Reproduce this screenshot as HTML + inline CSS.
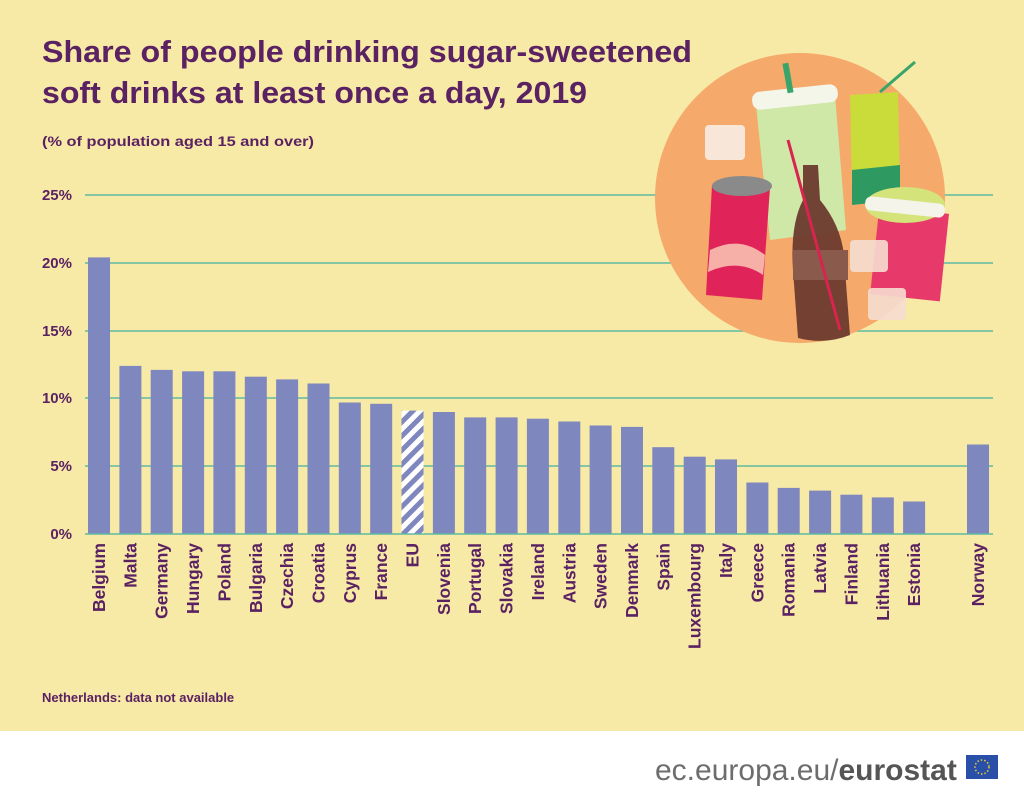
<!DOCTYPE html>
<html><head><meta charset="utf-8"><style>
html,body{margin:0;padding:0;width:1024px;height:800px;overflow:hidden;background:#fff}
svg{display:block}
text{font-family:"Liberation Sans",sans-serif;font-weight:bold;fill:#5a2262}
</style></head><body>
<svg width="1024" height="800" viewBox="0 0 1024 800">
<defs>
<pattern id="hatch" width="10" height="10" patternUnits="userSpaceOnUse" patternTransform="rotate(45)">
<rect width="10" height="10" fill="#fff"/><rect width="5" height="10" fill="#7f87bf"/>
</pattern>
</defs>
<rect width="1024" height="731" fill="#f7e9a6"/>
<text x="42" y="62" font-size="31" textLength="650" lengthAdjust="spacingAndGlyphs" style="font-family:'Liberation Sans Narrow','Liberation Sans',sans-serif">Share of people drinking sugar-sweetened</text>
<text x="42" y="103" font-size="31" textLength="545" lengthAdjust="spacingAndGlyphs" style="font-family:'Liberation Sans Narrow','Liberation Sans',sans-serif">soft drinks at least once a day, 2019</text>
<text x="42" y="146" font-size="14" textLength="272" lengthAdjust="spacingAndGlyphs">(% of population aged 15 and over)</text>
<g stroke="#5fb9a2" stroke-width="1.5">
<line x1="85" y1="195" x2="993" y2="195"/>
<line x1="85" y1="263" x2="993" y2="263"/>
<line x1="85" y1="331" x2="993" y2="331"/>
<line x1="85" y1="398" x2="993" y2="398"/>
<line x1="85" y1="466" x2="993" y2="466"/>
</g>
<g font-size="15" text-anchor="end">
<text x="72" y="200">25%</text>
<text x="72" y="268">20%</text>
<text x="72" y="336">15%</text>
<text x="72" y="403">10%</text>
<text x="72" y="471">5%</text>
<text x="72" y="539">0%</text>
</g>
<circle cx="800" cy="198" r="145" fill="#f5a96a"/>
<g>
<polygon points="756,105 835,95 846,230 770,240" fill="#cfe8a8"/>
<rect x="752" y="88" width="86" height="18" rx="8" fill="#f4f6ea" transform="rotate(-6 795 97)"/>
<rect x="785" y="63" width="6" height="30" fill="#3aa56a" transform="rotate(-10 788 78)"/>
<polygon points="850,95 898,92 900,185 852,190" fill="#c9dc3a"/>
<polygon points="852,170 900,165 900,200 852,205" fill="#2e9a62"/>
<line x1="880" y1="92" x2="915" y2="62" stroke="#3aa56a" stroke-width="3"/>
<polygon points="712,185 770,188 762,300 706,295" fill="#e0245a"/>
<ellipse cx="742" cy="186" rx="30" ry="10" fill="#8a8a8a"/>
<path d="M710,250 Q740,235 765,255 L763,275 Q738,258 708,272Z" fill="#f6b0a8"/>
<rect x="875" y="210" width="70" height="88" fill="#e83a6a" transform="rotate(6 910 250)"/>
<ellipse cx="905" cy="205" rx="40" ry="18" fill="#d4e37a"/>
<rect x="865" y="200" width="80" height="14" rx="6" fill="#f4f4ea" transform="rotate(6 905 207)"/>
<path d="M803,165 L818,165 L820,200 Q845,230 845,270 L850,335 Q825,345 798,338 L793,270 Q790,225 803,200Z" fill="#6b3a2e" opacity="0.95"/>
<rect x="793" y="250" width="55" height="30" fill="#8a5a4c"/>
<line x1="788" y1="140" x2="840" y2="330" stroke="#d8244e" stroke-width="3"/>
<rect x="705" y="125" width="40" height="35" rx="4" fill="#f8e6d8"/>
<rect x="850" y="240" width="38" height="32" rx="4" fill="#f6ddd0" opacity="0.9"/>
<rect x="868" y="288" width="38" height="32" rx="4" fill="#f6ddd0" opacity="0.9"/>
</g>
<g fill="#7f87bf">
<rect x="88" y="257.4" width="22" height="276.6"/>
<rect x="119.4" y="365.9" width="22" height="168.1"/>
<rect x="150.7" y="369.9" width="22" height="164.1"/>
<rect x="182.1" y="371.3" width="22" height="162.7"/>
<rect x="213.4" y="371.3" width="22" height="162.7"/>
<rect x="244.8" y="376.7" width="22" height="157.3"/>
<rect x="276.1" y="379.4" width="22" height="154.6"/>
<rect x="307.5" y="383.5" width="22" height="150.5"/>
<rect x="338.8" y="402.5" width="22" height="131.5"/>
<rect x="370.2" y="403.8" width="22" height="130.2"/>
<rect x="401.5" y="410.6" width="22" height="123.4" fill="url(#hatch)"/>
<rect x="432.9" y="412" width="22" height="122"/>
<rect x="464.2" y="417.4" width="22" height="116.6"/>
<rect x="495.6" y="417.4" width="22" height="116.6"/>
<rect x="526.9" y="418.7" width="22" height="115.3"/>
<rect x="558.3" y="421.5" width="22" height="112.5"/>
<rect x="589.6" y="425.5" width="22" height="108.5"/>
<rect x="621" y="426.9" width="22" height="107.1"/>
<rect x="652.3" y="447.2" width="22" height="86.8"/>
<rect x="683.7" y="456.7" width="22" height="77.3"/>
<rect x="715" y="459.4" width="22" height="74.6"/>
<rect x="746.4" y="482.5" width="22" height="51.5"/>
<rect x="777.7" y="487.9" width="22" height="46.1"/>
<rect x="809.1" y="490.6" width="22" height="43.4"/>
<rect x="840.4" y="494.7" width="22" height="39.3"/>
<rect x="871.8" y="497.4" width="22" height="36.6"/>
<rect x="903.1" y="501.5" width="22" height="32.5"/>
<rect x="967" y="444.5" width="22" height="89.5"/>
</g>
<line x1="85" y1="534" x2="993" y2="534" stroke="#5fb9a2" stroke-width="1.5"/>
<g font-size="17.5" text-anchor="end">
<text transform="translate(105,543) rotate(-90)">Belgium</text>
<text transform="translate(136.4,543) rotate(-90)">Malta</text>
<text transform="translate(167.7,543) rotate(-90)">Germany</text>
<text transform="translate(199.1,543) rotate(-90)">Hungary</text>
<text transform="translate(230.4,543) rotate(-90)">Poland</text>
<text transform="translate(261.8,543) rotate(-90)">Bulgaria</text>
<text transform="translate(293.1,543) rotate(-90)">Czechia</text>
<text transform="translate(324.5,543) rotate(-90)">Croatia</text>
<text transform="translate(355.8,543) rotate(-90)">Cyprus</text>
<text transform="translate(387.2,543) rotate(-90)">France</text>
<text transform="translate(418.5,543) rotate(-90)">EU</text>
<text transform="translate(449.9,543) rotate(-90)">Slovenia</text>
<text transform="translate(481.2,543) rotate(-90)">Portugal</text>
<text transform="translate(512.6,543) rotate(-90)">Slovakia</text>
<text transform="translate(543.9,543) rotate(-90)">Ireland</text>
<text transform="translate(575.3,543) rotate(-90)">Austria</text>
<text transform="translate(606.6,543) rotate(-90)">Sweden</text>
<text transform="translate(638,543) rotate(-90)">Denmark</text>
<text transform="translate(669.3,543) rotate(-90)">Spain</text>
<text transform="translate(700.7,543) rotate(-90)">Luxembourg</text>
<text transform="translate(732,543) rotate(-90)">Italy</text>
<text transform="translate(763.4,543) rotate(-90)">Greece</text>
<text transform="translate(794.7,543) rotate(-90)">Romania</text>
<text transform="translate(826.1,543) rotate(-90)">Latvia</text>
<text transform="translate(857.4,543) rotate(-90)">Finland</text>
<text transform="translate(888.8,543) rotate(-90)">Lithuania</text>
<text transform="translate(920.1,543) rotate(-90)">Estonia</text>
<text transform="translate(984,543) rotate(-90)">Norway</text>
</g>
<text x="42" y="702" font-size="13">Netherlands: data not available</text>
<text x="655" y="780" font-size="30" style="font-weight:normal;fill:#6d6d6d">ec.europa.eu/<tspan style="font-weight:bold;fill:#555">eurostat</tspan></text>
<rect x="966" y="755" width="32" height="24" fill="#2a4fa8"/>
<circle cx="982" cy="767" r="7" fill="none" stroke="#f0d030" stroke-width="1.5" stroke-dasharray="1.5 2"/>
</svg>
</body></html>
